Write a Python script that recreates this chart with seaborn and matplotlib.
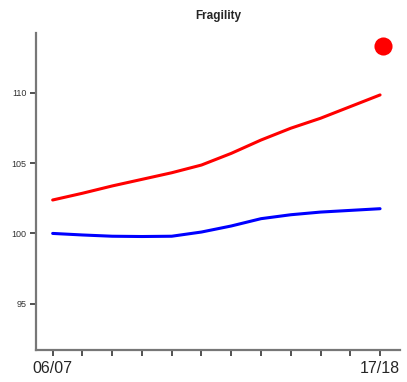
import numpy as np
import pandas as pd
import seaborn as sns
import matplotlib.pyplot as plt

# =====================
# DATA
# =====================
YEARS = ["06/07", "07/08", "08/09", "09/10", "10/11", "11/12",
         "12/13", "13/14", "14/15", "15/16", "16/17", "17/18"]
RED_VALUES  = [102.38, 102.86, 103.38, 103.85, 104.32, 104.87,
               105.70, 106.65, 107.49, 108.20, 109.03, 109.86]
BLUE_VALUES = [100.00, 99.89, 99.80, 99.78, 99.80, 100.10,
               100.53, 101.05, 101.33, 101.52, 101.64, 101.76]
DOT_X, DOT_Y = 11.1, 113.35
Y_TICKS = [95, 100, 105, 110]
SHOWN_LABELS = ["06/07", "17/18"]

df = pd.DataFrame({
    "idx": list(range(len(YEARS))) * 2,
    "value": RED_VALUES + BLUE_VALUES,
    "series": ["red"] * len(YEARS) + ["blue"] * len(YEARS),
})

sns.set_style("white")
plt.rcParams["font.family"] = ["Liberation Sans", "DejaVu Sans"]

fig = plt.figure(figsize=(4.07, 3.82), dpi=100)
ax = fig.add_axes([36 / 407, 1 - 350 / 382, 364 / 407, 317 / 382])

sns.lineplot(data=df, x="idx", y="value", hue="series",
             palette={"red": "#ff0000", "blue": "#0000ff"},
             linewidth=2.2, legend=False, ax=ax)
ax.scatter([DOT_X], [DOT_Y], s=170, color="#ff0000", zorder=5, linewidths=0)

ax.set_xlim(-0.56, 11.67)
ax.set_ylim(91.7, 114.27)
ax.set_xticks(range(len(YEARS)))
ax.set_xticklabels([y if y in SHOWN_LABELS else "" for y in YEARS], fontsize=11.5)
ax.set_yticks(Y_TICKS)
ax.set_yticklabels([str(t) for t in Y_TICKS], fontsize=6.5, color="#333333")
ax.set_xlabel("")
ax.set_ylabel("")
ax.set_title("Fragility", fontsize=8.5, fontweight="bold", pad=10)

for side in ["top", "right"]:
    ax.spines[side].set_visible(False)
for side in ["left", "bottom"]:
    ax.spines[side].set_color("#777777")
    ax.spines[side].set_linewidth(1.6)
ax.tick_params(axis="both", direction="out", length=4, width=1.2,
               color="#333333", bottom=True, left=True)
ax.tick_params(axis="x", pad=4)
ax.tick_params(axis="y", pad=3)

fig.savefig("out.png", dpi=100)
